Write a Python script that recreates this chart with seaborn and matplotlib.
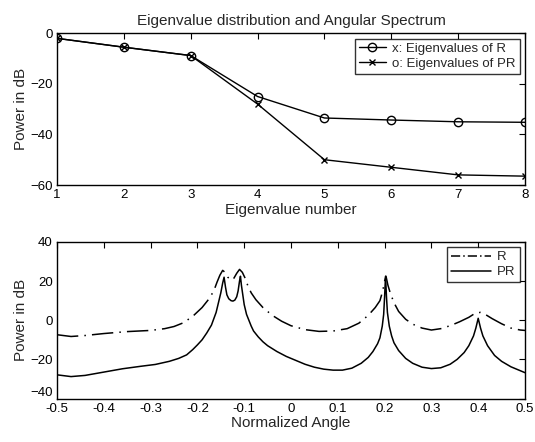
import matplotlib
matplotlib.use("Agg")
import matplotlib.pyplot as plt
import seaborn as sns
import pandas as pd

# ---- data: eigenvalue distribution ----
eig_number = [1, 2, 3, 4, 5, 6, 7, 8]
eig_R = [-2, -5.5, -8.8, -25, -33.5, -34.3, -35, -35.2]
eig_PR = [-2, -5.5, -8.8, -28, -50, -53, -56, -56.5]

# ---- data: angular spectrum ----
angle_PR = [-0.5, -0.47, -0.44, -0.4, -0.36, -0.32, -0.29, -0.26, -0.24, -0.223,
            -0.21, -0.2, -0.19, -0.18, -0.17, -0.16, -0.155, -0.15, -0.146, -0.143,
            -0.14, -0.137, -0.133, -0.128, -0.124, -0.12, -0.116, -0.113, -0.11, -0.108,
            -0.106, -0.103, -0.1, -0.095, -0.09, -0.085, -0.08, -0.07, -0.06, -0.05,
            -0.03, -0.01, 0.01, 0.03, 0.05, 0.07, 0.09, 0.11, 0.13, 0.15,
            0.165, 0.175, 0.185, 0.19, 0.195, 0.198, 0.2, 0.202, 0.204, 0.206,
            0.21, 0.215, 0.22, 0.23, 0.245, 0.26, 0.28, 0.3, 0.32, 0.34,
            0.355, 0.37, 0.38, 0.39, 0.395, 0.4, 0.405, 0.41, 0.42, 0.435,
            0.45, 0.47, 0.49, 0.5]
power_PR = [-27.9, -28.8, -28.2, -26.5, -24.8, -23.5, -22.6, -21.0, -19.5, -17.7,
            -15.0, -12.6, -10.0, -6.5, -2.5, 4.0, 9.0, 14.0, 19.0, 22.0,
            17.0, 13.0, 11.0, 10.0, 9.8, 10.3, 12.0, 15.0, 20.0, 22.5,
            18.0, 13.0, 8.0, 3.0, 0.0, -3.0, -5.5, -8.5, -11.0, -13.0,
            -16.0, -18.5, -20.5, -22.5, -24.0, -25.0, -25.5, -25.5, -24.5, -22.0,
            -19.0, -16.0, -12.0, -9.0, -3.0, 3.0, 12.0, 22.5, 12.0, 4.0,
            -3.0, -8.0, -11.5, -15.5, -19.5, -22.0, -24.0, -24.7, -24.3, -22.5,
            -20.0, -16.5, -13.0, -8.0, -4.0, 1.0, -4.0, -8.0, -13.0, -18.0,
            -21.0, -23.8, -25.8, -26.8]

angle_R = [-0.5, -0.47, -0.44, -0.4, -0.35, -0.3, -0.27, -0.25, -0.23, -0.21,
           -0.19, -0.175, -0.165, -0.158, -0.152, -0.146, -0.141, -0.135, -0.128, -0.122,
           -0.116, -0.11, -0.104, -0.098, -0.092, -0.085, -0.075, -0.06, -0.04, -0.02,
           0.0, 0.03, 0.06, 0.09, 0.12, 0.145, 0.165, 0.18, 0.19, 0.196,
           0.2, 0.203, 0.207, 0.212, 0.22, 0.23, 0.245, 0.26, 0.28, 0.3,
           0.32, 0.34, 0.36, 0.38, 0.395, 0.405, 0.415, 0.43, 0.45, 0.47,
           0.49, 0.5]
power_R = [-7.4, -8.3, -7.8, -6.8, -5.8, -5.2, -4.3, -3.2, -1.3, 2.0,
           6.5, 11.0, 15.0, 19.5, 23.0, 25.5, 24.5, 22.0, 20.5, 21.5,
           24.0, 26.0, 24.5, 21.5, 17.5, 14.0, 10.5, 6.5, 2.5, -0.5,
           -2.8, -4.8, -5.7, -5.5, -4.3, -1.5, 2.5, 6.5, 10.0, 15.0,
           20.0, 22.5, 18.0, 14.0, 9.0, 4.5, 0.5, -2.0, -4.0, -5.0,
           -4.3, -2.8, -0.8, 1.5, 3.8, 4.0, 3.0, 0.8, -1.8, -4.0,
           -5.0, -5.2]

angle_ticks = [-0.5, -0.4, -0.3, -0.2, -0.1, 0, 0.1, 0.2, 0.3, 0.4, 0.5]
angle_tick_labels = ["-0.5", "-0.4", "-0.3", "-0.2", "-0.1", "0", "0.1", "0.2", "0.3", "0.4", "0.5"]

sns.set_style("white")
plt.rcParams['font.family'] = ['Liberation Sans', 'DejaVu Sans']

fig = plt.figure(figsize=(5.35, 4.42), dpi=100)
ax1 = fig.add_axes([57/535, 1-185/442, 468/535, (185-33.3)/442])
ax2 = fig.add_axes([57/535, 1-398.5/442, 468/535, (398.5-242)/442])

df_eig = pd.DataFrame({"n": eig_number, "R": eig_R, "PR": eig_PR})
sns.lineplot(data=df_eig, x="n", y="R", ax=ax1, color="black", lw=1.0,
             marker="o", markersize=6, markerfacecolor="none", markeredgecolor="black",
             markeredgewidth=1.0, label="x: Eigenvalues of R")
sns.lineplot(data=df_eig, x="n", y="PR", ax=ax1, color="black", lw=1.0,
             marker="x", markersize=4, markeredgewidth=1.0, markeredgecolor="black",
             label="o: Eigenvalues of PR")

df_R = pd.DataFrame({"a": angle_R, "p": power_R})
df_PR = pd.DataFrame({"a": angle_PR, "p": power_PR})
sns.lineplot(data=df_R, x="a", y="p", ax=ax2, color="black", lw=1.1, label="R")
ax2.lines[-1].set_dashes((14, 4, 1, 4))
sns.lineplot(data=df_PR, x="a", y="p", ax=ax2, color="black", lw=1.1, label="PR")

for ax in (ax1, ax2):
    for s in ax.spines.values():
        s.set_color("black")
        s.set_linewidth(1.0)
    ax.tick_params(direction="in", top=True, right=True, length=4, width=0.8,
                   colors="black", labelsize=9.5)
    ax.tick_params(axis="x", pad=3)
    ax.tick_params(axis="y", pad=3)
    ax.set_ylabel("Power in dB", fontsize=11, labelpad=2)

ax1.set_xlim(1, 8)
ax1.set_ylim(-60, 0)
ax1.set_xticks(eig_number)
ax1.set_yticks([-60, -40, -20, 0])
ax1.set_xlabel("Eigenvalue number", fontsize=11, labelpad=1)
ax1.set_title("Eigenvalue distribution and Angular Spectrum", fontsize=11, pad=6)
leg1 = ax1.legend(loc="upper right", fontsize=9.5, frameon=True, fancybox=False,
                  edgecolor="black", handlelength=2.0, borderpad=0.3, labelspacing=0.2,
                  handletextpad=0.5, borderaxespad=0.4)
leg1.get_frame().set_linewidth(1.0)

ax2.set_xlim(-0.5, 0.5)
ax2.set_ylim(-40, 40)
ax2.set_xticks(angle_ticks)
ax2.set_xticklabels(angle_tick_labels)
ax2.set_yticks([-40, -20, 0, 20, 40])
ax2.set_xlabel("Normalized Angle", fontsize=11, labelpad=1)
# nudge the lowest y label up a little so it does not collide with "-0.5"
ax2.get_yticklabels()[0].set_verticalalignment("bottom")
leg2 = ax2.legend(loc="upper right", fontsize=9.5, frameon=True, fancybox=False,
                  edgecolor="black", handlelength=3.0, borderpad=0.3, labelspacing=0.2,
                  handletextpad=0.5, borderaxespad=0.4)
leg2.get_frame().set_linewidth(1.0)
leg2.get_lines()[0].set_dashes((6, 2, 1, 2))

fig.savefig("out.png", dpi=100, facecolor="white")
